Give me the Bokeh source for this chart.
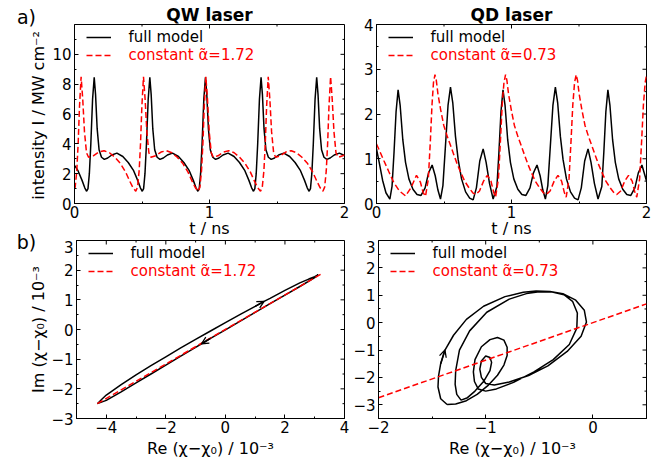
import math
from bokeh.plotting import figure
from bokeh.models import (FixedTicker, Legend, LegendItem, Label,
                          Arrow, OpenHead, Range1d)
from bokeh.layouts import row, column
from bokeh.embed import file_html
from bokeh.resources import INLINE

FONT = "DejaVu Sans"

# ---------------- data: a) QW laser intensity ----------------
qw_t_full = [0.000, 0.026, 0.056, 0.076, 0.090, 0.100, 0.110, 0.121, 0.134, 0.146, 0.156, 0.168, 0.182, 0.200, 0.221, 0.246, 0.276, 0.314,
             0.358, 0.398, 0.438, 0.468, 0.488, 0.502, 0.512, 0.522, 0.533, 0.546, 0.558, 0.568, 0.580, 0.594, 0.612, 0.633, 0.658, 0.688, 0.726,
             0.770, 0.810, 0.850, 0.880, 0.900, 0.914, 0.924, 0.934, 0.945, 0.958, 0.970, 0.980, 0.992, 1.006, 1.024, 1.045, 1.070, 1.100, 1.138,
             1.182, 1.222, 1.262, 1.292, 1.312, 1.326, 1.336, 1.346, 1.357, 1.370, 1.382, 1.392, 1.404, 1.418, 1.436, 1.457, 1.482, 1.512, 1.550,
             1.594, 1.634, 1.674, 1.704, 1.724, 1.738, 1.748, 1.758, 1.769, 1.782, 1.794, 1.804, 1.816, 1.830, 1.848, 1.869, 1.894, 1.924, 1.962,
             2.000]
qw_I_full = [2.55, 2.20, 1.55, 1.05, 0.82, 1.00, 2.00, 4.00, 7.00, 8.46, 7.30, 5.00, 3.60, 3.10, 2.96, 3.05, 3.25, 3.38,
             3.15, 2.75, 2.20, 1.55, 1.05, 0.82, 1.00, 2.00, 4.00, 7.00, 8.46, 7.30, 5.00, 3.60, 3.10, 2.96, 3.05, 3.25, 3.38,
             3.15, 2.75, 2.20, 1.55, 1.05, 0.82, 1.00, 2.00, 4.00, 7.00, 8.46, 7.30, 5.00, 3.60, 3.10, 2.96, 3.05, 3.25, 3.38,
             3.15, 2.75, 2.20, 1.55, 1.05, 0.82, 1.00, 2.00, 4.00, 7.00, 8.46, 7.30, 5.00, 3.60, 3.10, 2.96, 3.05, 3.25, 3.38,
             3.15, 2.75, 2.20, 1.55, 1.05, 0.82, 1.00, 2.00, 4.00, 7.00, 8.46, 7.30, 5.00, 3.60, 3.10, 2.96, 3.05, 3.25, 3.38,
             3.22]

qw_t_const = [0.000, 0.005, 0.017, 0.027, 0.037, 0.049,
              0.061, 0.074, 0.089, 0.104, 0.139, 0.179, 0.219, 0.259, 0.299, 0.339, 0.379, 0.409, 0.434, 0.454, 0.467, 0.479, 0.489, 0.499, 0.511,
              0.523, 0.536, 0.551, 0.566, 0.601, 0.641, 0.681, 0.721, 0.761, 0.801, 0.841, 0.871, 0.896, 0.916, 0.929, 0.941, 0.951, 0.961, 0.973,
              0.985, 0.998, 1.013, 1.028, 1.063, 1.103, 1.143, 1.183, 1.223, 1.263, 1.303, 1.333, 1.358, 1.378, 1.391, 1.403, 1.413, 1.423, 1.435,
              1.447, 1.460, 1.475, 1.490, 1.525, 1.565, 1.605, 1.645, 1.685, 1.725, 1.765, 1.795, 1.820, 1.840, 1.853, 1.865, 1.875, 1.885, 1.897,
              1.909, 1.922, 1.937, 1.952, 1.987, 2.000]
qw_I_const = [1.00, 1.10, 2.20, 4.00, 6.50, 8.50,
              7.00, 4.80, 3.40, 3.10, 3.20, 3.45, 3.54, 3.40, 3.10, 2.70, 2.10, 1.50, 1.05, 0.82, 1.10, 2.20, 4.00, 6.50, 8.50,
              7.00, 4.80, 3.40, 3.10, 3.20, 3.45, 3.54, 3.40, 3.10, 2.70, 2.10, 1.50, 1.05, 0.82, 1.10, 2.20, 4.00, 6.50, 8.50,
              7.00, 4.80, 3.40, 3.10, 3.20, 3.45, 3.54, 3.40, 3.10, 2.70, 2.10, 1.50, 1.05, 0.82, 1.10, 2.20, 4.00, 6.50, 8.50,
              7.00, 4.80, 3.40, 3.10, 3.20, 3.45, 3.54, 3.40, 3.10, 2.70, 2.10, 1.50, 1.05, 0.82, 1.10, 2.20, 4.00, 6.50, 8.50,
              7.00, 4.80, 3.40, 3.10, 3.20, 3.25]

# ---------------- data: a) QD laser intensity ----------------
qd_t_full = [0.000, 0.020, 0.045, 0.070, 0.099, 0.115, 0.130, 0.145, 0.160, 0.175, 0.195, 0.215, 0.240, 0.270, 0.300, 0.330, 0.360, 0.385,
             0.412, 0.435, 0.455, 0.474, 0.492, 0.510, 0.530, 0.548, 0.565, 0.585, 0.605, 0.630, 0.660, 0.690, 0.716, 0.740, 0.765, 0.790,
             0.812, 0.837, 0.864,
             0.892, 0.907, 0.922, 0.937, 0.952, 0.972, 0.992, 1.017, 1.047, 1.077, 1.107, 1.137, 1.162, 1.189, 1.212, 1.232, 1.251, 1.269,
             1.287, 1.307, 1.325, 1.342, 1.362, 1.382, 1.407, 1.437, 1.467, 1.493, 1.517, 1.542, 1.567, 1.589, 1.614, 1.641,
             1.669, 1.684, 1.699, 1.714, 1.729, 1.749, 1.769, 1.794, 1.824, 1.854, 1.884, 1.914, 1.939, 1.966, 1.989, 2.000]
qd_I_full = [1.22, 0.92, 0.52, 0.24, 0.10, 0.38, 1.15, 2.05, 2.54, 2.20, 1.42, 0.92, 0.55, 0.32, 0.20, 0.18, 0.35, 0.68,
             0.86, 0.62, 0.30, 0.10, 0.40, 1.25, 2.20, 2.60, 2.25, 1.50, 0.98, 0.55, 0.26, 0.12, 0.08, 0.35, 0.95, 1.22,
             0.92, 0.45, 0.10,
             0.38, 1.15, 2.05, 2.54, 2.20, 1.42, 0.92, 0.55, 0.32, 0.20, 0.18, 0.35, 0.68, 0.86, 0.62, 0.30, 0.10, 0.40,
             1.25, 2.20, 2.60, 2.25, 1.50, 0.98, 0.55, 0.26, 0.12, 0.08, 0.35, 0.95, 1.22, 0.92, 0.45, 0.10,
             0.38, 1.15, 2.05, 2.54, 2.20, 1.42, 0.92, 0.55, 0.32, 0.20, 0.18, 0.35, 0.68, 0.86, 0.62, 0.50]

qd_t_const = [0.000, 0.027, 0.054, 0.090, 0.128, 0.170, 0.215, 0.255, 0.296, 0.325, 0.345, 0.363, 0.384, 0.399, 0.411, 0.422, 0.433,
              0.443, 0.455, 0.475, 0.498, 0.524, 0.548, 0.574, 0.598, 0.623, 0.653, 0.685, 0.713, 0.734, 0.763, 0.793, 0.821, 0.848, 0.868,
              0.882, 0.903, 0.918, 0.931, 0.944, 0.956,
              0.966, 0.978, 0.998, 1.021, 1.047, 1.071, 1.097, 1.121, 1.146, 1.176, 1.208, 1.236, 1.257, 1.286, 1.316, 1.344, 1.371, 1.391,
              1.405, 1.426, 1.441, 1.454, 1.467, 1.479,
              1.489, 1.501, 1.521, 1.544, 1.570, 1.594, 1.620, 1.644, 1.669, 1.699, 1.731, 1.759, 1.780, 1.809, 1.839, 1.867, 1.894, 1.914,
              1.928, 1.949, 1.964, 1.977, 1.990, 2.000]
qd_I_const = [1.33, 1.15, 0.96, 0.72, 0.47, 0.28, 0.17, 0.35, 0.63, 0.48, 0.25, 0.16, 0.55, 1.40, 2.20, 2.70, 2.88,
              2.75, 2.45, 2.10, 1.75, 1.50, 1.30, 1.08, 0.88, 0.70, 0.50, 0.35, 0.24, 0.20, 0.28, 0.50, 0.63, 0.50, 0.25,
              0.14, 0.55, 1.40, 2.20, 2.70, 2.88,
              2.75, 2.45, 2.10, 1.75, 1.50, 1.30, 1.08, 0.88, 0.70, 0.50, 0.35, 0.24, 0.20, 0.28, 0.50, 0.63, 0.50, 0.25,
              0.14, 0.55, 1.40, 2.20, 2.70, 2.88,
              2.75, 2.45, 2.10, 1.75, 1.50, 1.30, 1.08, 0.88, 0.70, 0.50, 0.35, 0.24, 0.20, 0.28, 0.50, 0.63, 0.50, 0.25,
              0.14, 0.55, 1.40, 2.20, 2.70, 2.86]

# ---------------- data: b) QW phase portrait ----------------
qw_re_full = [-4.30, -4.15, -4.00, -3.50, -3.00, -2.50, -2.00, -1.50, -1.00, -0.50, 0.00, 0.50, 1.00, 1.30, 1.50, 2.00, 2.50, 2.80, 3.00, 3.12,
              3.00, 2.50, 2.00, 1.50, 1.00, 0.50, 0.00, -0.50, -0.80, -1.00, -1.50, -2.00, -2.50, -3.00, -3.50, -4.00, -4.30]
qw_im_full = [-2.50, -2.35, -2.21, -1.86, -1.53, -1.22, -0.92, -0.62, -0.33, -0.05, 0.23, 0.51, 0.78, 0.95, 1.05, 1.32, 1.57, 1.70, 1.78, 1.85,
              1.75, 1.45, 1.16, 0.87, 0.58, 0.28, -0.01, -0.30, -0.48, -0.60, -0.90, -1.20, -1.50, -1.80, -2.10, -2.39, -2.50]
qw_re_const = [-4.30, 3.28]
qw_im_const = [-2.50, 1.91]

# ---------------- data: b) QD phase portrait ----------------
qd_re_full = [-1.36, -1.42, -1.445, -1.44, -1.42, -1.38, -1.30, -1.18, -1.02, -0.82, -0.65, -0.53, -0.40, -0.28, -0.16, -0.08, -0.06,
              -0.11, -0.24, -0.42, -0.60, -0.78, -0.92, -1.00,
              -1.04, -1.055, -1.04, -1.00, -0.96, -0.945, -0.96, -1.02, -1.10, -1.17, -1.23,
              -1.27, -1.285, -1.28, -1.245, -1.15, -0.99, -0.78, -0.62, -0.50, -0.38, -0.27, -0.19, -0.145, -0.15, -0.22, -0.37,
              -0.55, -0.74, -0.90, -1.00, -1.07,
              -1.105, -1.115, -1.10, -1.04, -0.96, -0.89, -0.83, -0.80, -0.80, -0.83, -0.89, -0.98, -1.08, -1.18, -1.28, -1.36]
qd_im_full = [-2.99, -2.78, -2.35, -1.95, -1.50, -1.00, -0.46, 0.12, 0.60, 0.95, 1.11, 1.16, 1.14, 1.06, 0.82, 0.45, 0.02,
              -0.50, -1.05, -1.58, -1.93, -2.17, -2.28, -2.22,
              -2.00, -1.70, -1.40, -1.22, -1.27, -1.45, -1.75, -2.15, -2.50, -2.74, -2.83,
              -2.62, -2.25, -1.75, -1.00, -0.30, 0.38, 0.86, 1.06, 1.13, 1.12, 1.02, 0.78, 0.35, -0.20, -0.80, -1.35,
              -1.80, -2.18, -2.42, -2.50, -2.42,
              -2.15, -1.80, -1.35, -0.88, -0.62, -0.54, -0.64, -0.90, -1.20, -1.55, -1.92, -2.30, -2.62, -2.85, -2.97, -2.99]
qd_re_const = [-2.00, 0.50]
qd_im_const = [-2.74, 0.685]

# ticks
t_ticks, t_minor = [0, 1, 2], [0.5, 1.5]
qw_I_ticks, qw_I_minor = [0, 2, 4, 6, 8, 10], [1, 3, 5, 7, 9, 11]
qd_I_ticks, qd_I_minor = [0, 1, 2, 3, 4], [0.5, 1.5, 2.5, 3.5]
qw_re_ticks, qw_re_minor = [-4, -2, 0, 2, 4], [-5, -3, -1, 1, 3]
qw_im_ticks, qw_im_minor = [-3, -2, -1, 0, 1, 2, 3], [-2.5, -1.5, -0.5, 0.5, 1.5, 2.5]
qd_re_ticks, qd_re_minor = [-2, -1, 0], [-1.5, -0.5, 0.5]
qd_im_ticks, qd_im_minor = [-3, -2, -1, 0, 1, 2, 3], [-3.5, -2.5, -1.5, -0.5, 0.5, 1.5, 2.5]

RED = "#ff0000"
MAJ, MIN = 4, 2  # tick lengths in px


def fmt(v):
    s = "%g" % abs(v)
    return ("\u2212" + s) if v < 0 else s


def make_fig(w, h, xr, yr, lb, rb, tb, bb, title=None):
    p = figure(width=w, height=h, x_range=Range1d(*xr), y_range=Range1d(*yr),
               output_backend="svg", toolbar_location=None, title=title,
               min_border_left=lb, min_border_right=rb, min_border_top=tb, min_border_bottom=bb)
    p.grid.visible = False
    p.outline_line_color = "black"
    p.outline_line_width = 1
    p.outline_line_alpha = 1
    p.background_fill_color = "white"
    p.border_fill_color = "white"
    if title is not None:
        p.title.text_font = FONT
        p.title.text_font_size = "17px"
        p.title.text_font_style = "bold"
        p.title.text_color = "black"
        p.title.align = "center"
        p.title.standoff = 0
    return p


def style_axis(ax, ticks, minor, standoff):
    ax.ticker = FixedTicker(ticks=ticks, minor_ticks=minor)
    ax.major_tick_in = MAJ
    ax.major_tick_out = 0
    ax.minor_tick_in = MIN
    ax.minor_tick_out = 0
    ax.axis_line_color = "black"
    ax.major_tick_line_color = "black"
    ax.minor_tick_line_color = "black"
    ax.major_label_text_font = FONT
    ax.major_label_text_font_size = "15px"
    ax.major_label_text_color = "black"
    ax.major_label_standoff = standoff
    ax.major_label_overrides = {t: fmt(t) for t in ticks}


def mirror_ticks(p, xr, yr, fw, fh, xt, xm, yt, ym):
    # ticks on the top and right frame edges, pointing inwards
    dy = (yr[1] - yr[0]) / fh
    dx = (xr[1] - xr[0]) / fw
    for ticks, L in ((xt, MAJ), (xm, MIN)):
        p.segment(x0=ticks, x1=ticks, y0=[yr[1]] * len(ticks), y1=[yr[1] - L * dy] * len(ticks),
                  line_color="black", line_width=1)
    for ticks, L in ((yt, MAJ), (ym, MIN)):
        p.segment(x0=[xr[1]] * len(ticks), x1=[xr[1] - L * dx] * len(ticks), y0=ticks, y1=ticks,
                  line_color="black", line_width=1)


def setup_axes(p, xr, yr, fw, fh, xt, xm, yt, ym, xlabel, xlabel_standoff):
    style_axis(p.xaxis[0], xt, xm, 2)
    style_axis(p.yaxis[0], yt, ym, 3)
    p.xaxis[0].axis_label = xlabel
    p.xaxis[0].axis_label_text_font = FONT
    p.xaxis[0].axis_label_text_font_size = "16px"
    p.xaxis[0].axis_label_text_font_style = "normal"
    p.xaxis[0].axis_label_text_color = "black"
    p.xaxis[0].axis_label_standoff = xlabel_standoff
    mirror_ticks(p, xr, yr, fw, fh, xt, xm, yt, ym)


def add_legend(p, rend, text, color, vy):
    leg = Legend(items=[LegendItem(label=text, renderers=[rend])], location=(11.5, vy),
                 padding=0, margin=0, spacing=0, glyph_width=25, glyph_height=14, label_height=14,
                 label_standoff=18, label_text_font=FONT, label_text_font_size="15px",
                 label_text_color=color, background_fill_alpha=0, border_line_alpha=0)
    p.add_layout(leg)


def curves(p, x1, y1, x2, y2, red_label, fh):
    r1 = p.line(x1, y1, line_color="black", line_width=1.5)
    r2 = p.line(x2, y2, line_color=RED, line_width=1.5, line_dash="6 3")
    add_legend(p, r1, "full model", "black", fh - 22.2)
    add_legend(p, r2, red_label, RED, fh - 39.8)
    return r1, r2


def arrow(p, xs, ys, i):
    p.add_layout(Arrow(end=OpenHead(size=7, line_width=1.3, line_color="black"),
                       x_start=xs[i - 1], y_start=ys[i - 1], x_end=xs[i], y_end=ys[i],
                       line_color="black", line_width=1.5))


FW = 270
FH_TOP, FH_BOT = 179, 178

XR_T, YR_QW, YR_QD = (0, 2), (0, 12), (0, 4)
XR_BL, YR_BL = (-5, 4), (-3, 3)
XR_BR, YR_BR = (-2, 0.5), (-3.5, 3)

tl = make_fig(302, 240, XR_T, YR_QW, 26, 6, 24, 37, "QW laser")
tr = make_fig(308, 240, XR_T, YR_QD, 26, 12, 24, 37, "QD laser")
bl = make_fig(302, 220, XR_BL, YR_BL, 26, 6, 0, 42)
br = make_fig(308, 220, XR_BR, YR_BR, 26, 12, 0, 42)

RE_LABEL = "Re (\u03c7\u2212\u03c7\u2080) / 10\u207b\u00b3"
setup_axes(tl, XR_T, YR_QW, FW, FH_TOP, t_ticks, t_minor, qw_I_ticks, qw_I_minor, "t / ns", -2)
setup_axes(tr, XR_T, YR_QD, FW, FH_TOP, t_ticks, t_minor, qd_I_ticks, qd_I_minor, "t / ns", -2)
setup_axes(bl, XR_BL, YR_BL, FW, FH_BOT, qw_re_ticks, qw_re_minor, qw_im_ticks, qw_im_minor, RE_LABEL, 3)
setup_axes(br, XR_BR, YR_BR, FW, FH_BOT, qd_re_ticks, qd_re_minor, qd_im_ticks, qd_im_minor, RE_LABEL, 3)

curves(tl, qw_t_full, qw_I_full, qw_t_const, qw_I_const, "constant \u03b1\u0303=1.72", FH_TOP)
curves(tr, qd_t_full, qd_I_full, qd_t_const, qd_I_const, "constant \u03b1\u0303=0.73", FH_TOP)
curves(bl, qw_re_full, qw_im_full, qw_re_const, qw_im_const, "constant \u03b1\u0303=1.72", FH_BOT)
curves(br, qd_re_full, qd_im_full, qd_re_const, qd_im_const, "constant \u03b1\u0303=0.73", FH_BOT)

arrow(bl, qw_re_full, qw_im_full, qw_re_full.index(1.30))
arrow(bl, qw_re_full, qw_im_full, qw_re_full.index(-0.80))
arrow(br, qd_re_full, qd_im_full, 5)

# left column with panel letters and y-axis labels
H = 460
lab = figure(width=48, height=H, x_range=Range1d(0, 1), y_range=Range1d(0, 1),
             x_axis_type=None, y_axis_type=None, min_border=0,
             toolbar_location=None, output_backend="svg")
lab.outline_line_color = None
lab.add_layout(Label(x=26, y=H - 16.5, x_units="screen", y_units="screen", text="a)",
                     text_font=FONT, text_font_size="19px", text_align="center",
                     text_baseline="middle", text_color="black"))
lab.add_layout(Label(x=26, y=H - 241, x_units="screen", y_units="screen", text="b)",
                     text_font=FONT, text_font_size="19px", text_align="center",
                     text_baseline="middle", text_color="black"))
lab.add_layout(Label(x=37.5, y=H - 115, x_units="screen", y_units="screen",
                     text="intensity I / MW cm\u207b\u00b2", angle=math.pi / 2,
                     text_font=FONT, text_font_size="16px", text_align="center",
                     text_baseline="alphabetic", text_color="black"))
lab.add_layout(Label(x=38, y=H - 329, x_units="screen", y_units="screen",
                     text="Im (\u03c7\u2212\u03c7\u2080) / 10\u207b\u00b3", angle=math.pi / 2,
                     text_font=FONT, text_font_size="16px", text_align="center",
                     text_baseline="alphabetic", text_color="black"))

layout = row(lab, column(row(tl, tr), row(bl, br)))

open("out.html", "w").write(file_html(layout, INLINE))
